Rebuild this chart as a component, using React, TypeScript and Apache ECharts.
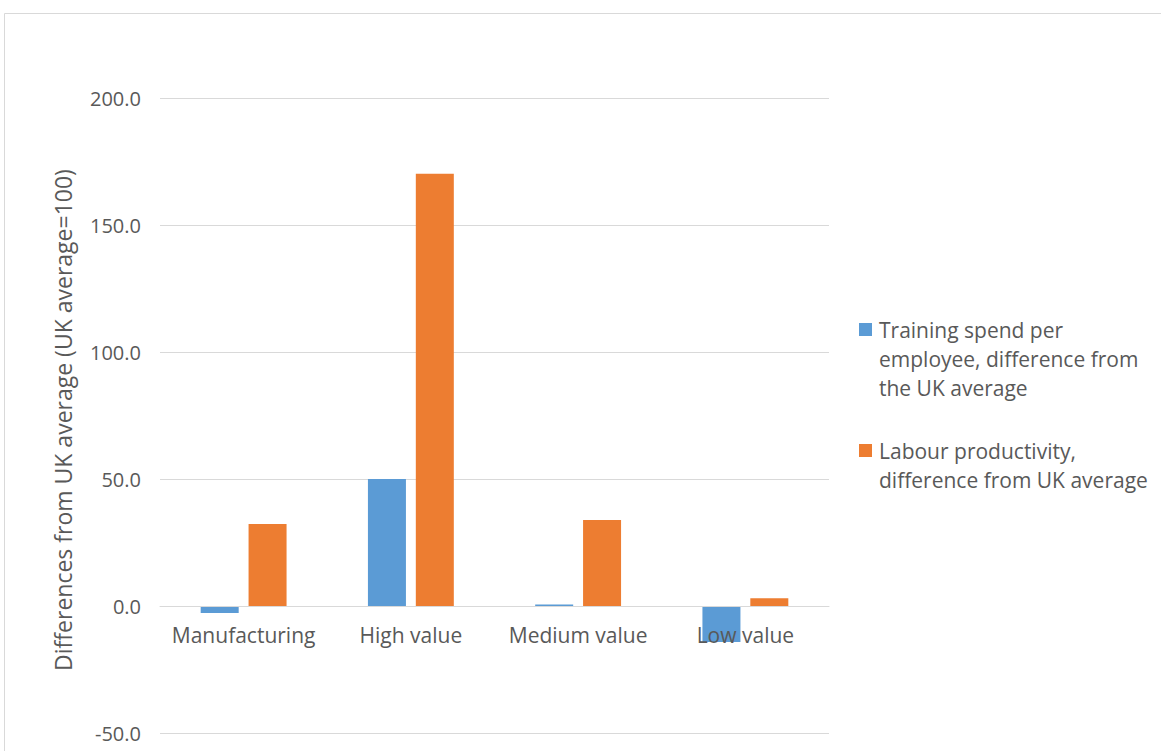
import React, { useEffect, useRef } from "react";
import * as echarts from "echarts";

const categories = ["Manufacturing", "High value", "Medium value", "Low value"];
const trainingSpend = [-2.8, 50.0, 0.6, -14.2];
const labourProductivity = [32.3, 170.2, 33.9, 3.1];
const seriesNames = [
  "Training spend per employee, difference from the UK average",
  "Labour productivity, difference from UK average",
];
const legendLines = [
  ["Training spend per", "employee, difference from", "the UK average"],
  ["Labour productivity,", "difference from UK average"],
];
const yTitle = "Differences from UK average (UK average=100)";
const yMin = -50;
const yMax = 200;
const yStep = 50;

const FONT = "'Open Sans', sans-serif";
const TEXT = "#595959";
const GRID = "#d9d9d9";
const BLUE = "#5B9BD5";
const ORANGE = "#ED7D31";

const W = 1161;
const H = 751;
const GRID_TOP = 98;
const GRID_BOTTOM = 18;

export default function App() {
  const ref = useRef<HTMLDivElement>(null);
  useEffect(() => {
    if (!ref.current) return;
    const chart = echarts.init(ref.current, undefined, { renderer: "svg" });
    const plotH = H - GRID_TOP - GRID_BOTTOM;
    const zeroOffset = -((0 - yMin) / (yMax - yMin)) * plotH;
    const legendGraphics: any[] = [];
    const legendTops = [330, 451];
    const colors = [BLUE, ORANGE];
    legendLines.forEach((lines, i) => {
      legendGraphics.push({
        type: "rect",
        shape: { x: 859, y: legendTops[i] - 7, width: 13, height: 13 },
        style: { fill: colors[i] },
      });
      lines.forEach((t, j) => {
        legendGraphics.push({
          type: "text",
          x: 879,
          y: legendTops[i] + j * 29,
          style: {
            text: t,
            fill: TEXT,
            font: `21px ${FONT}`,
            textVerticalAlign: "middle",
            textAlign: "left",
          },
        });
      });
    });
    chart.setOption({
      animation: false,
      textStyle: { fontFamily: FONT },
      grid: {
        left: 160,
        right: 332,
        top: GRID_TOP,
        bottom: GRID_BOTTOM,
        containLabel: false,
        outerBoundsMode: "none",
      },
      xAxis: {
        type: "category",
        data: categories,
        position: "bottom",
        offset: zeroOffset,
        axisLine: { show: true, onZero: false, lineStyle: { color: GRID, width: 1 } },
        axisTick: { show: false },
        axisLabel: {
          color: TEXT,
          fontSize: 21,
          fontFamily: FONT,
          margin: 18,
          interval: 0,
        },
        z: 10,
      },
      yAxis: {
        type: "value",
        min: yMin,
        max: yMax,
        interval: yStep,
        axisLine: { show: false },
        axisTick: { show: false },
        axisLabel: {
          color: TEXT,
          fontSize: 20,
          fontFamily: FONT,
          margin: 19,
          formatter: (v: number) => v.toFixed(1),
        },
        splitLine: { lineStyle: { color: GRID, width: 1 } },
      },
      series: [
        {
          name: seriesNames[0],
          type: "bar",
          data: trainingSpend,
          barWidth: 38,
          barGap: "26%",
          itemStyle: { color: BLUE },
        },
        {
          name: seriesNames[1],
          type: "bar",
          data: labourProductivity,
          barWidth: 38,
          barGap: "26%",
          itemStyle: { color: ORANGE },
        },
      ],
      graphic: [
        {
          type: "rect",
          shape: { x: 4.5, y: 13.5, width: 1200, height: 800 },
          style: { fill: "none", stroke: GRID, lineWidth: 1 },
          silent: true,
        },
        {
          type: "text",
          x: 63,
          y: 420,
          rotation: Math.PI / 2,
          style: {
            text: yTitle,
            fill: TEXT,
            font: `23px ${FONT}`,
            textAlign: "center",
            textVerticalAlign: "middle",
          },
        },
        ...legendGraphics,
      ],
    });
    return () => chart.dispose();
  }, []);
  return (
    <div
      ref={ref}
      style={{ position: "absolute", left: 0, top: 0, width: W, height: H, background: "#fff" }}
    />
  );
}
